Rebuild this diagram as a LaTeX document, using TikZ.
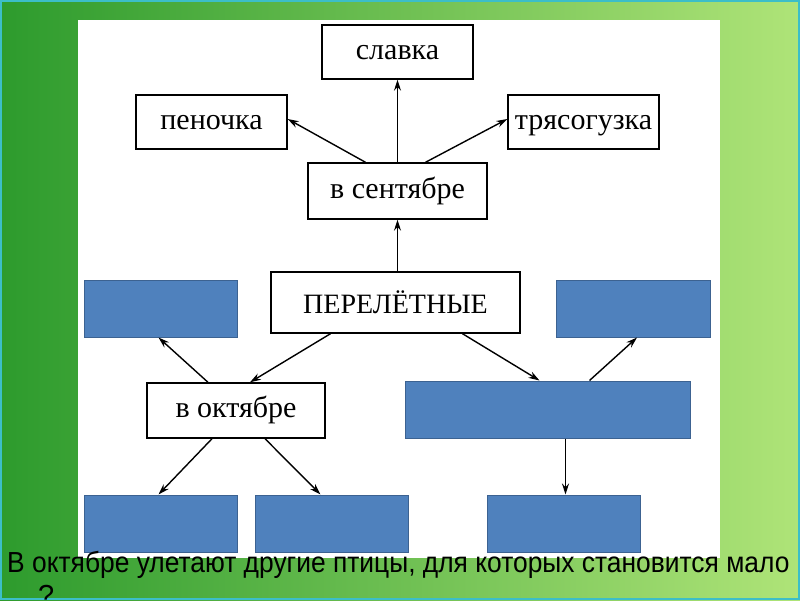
\documentclass[tikz,border=0pt]{standalone}
\usepackage{fontspec}
\setmainfont{Liberation Serif}
\newfontfamily\captionfont{Liberation Sans}
\usetikzlibrary{arrows.meta}
\definecolor{blueFill}{RGB}{79,129,189}
\definecolor{blueEdge}{RGB}{60,98,145}
\definecolor{bgDark}{RGB}{45,155,45}
\definecolor{bgLight}{RGB}{175,228,120}
\definecolor{frameCyan}{RGB}{60,190,200}

\begin{document}
\begin{tikzpicture}[x=1pt,y=-1pt,>={Stealth[length=11pt,width=7pt]},
  wordbox/.style={draw=black,line width=1.4pt,fill=white,minimum width=151pt,minimum height=54pt,inner sep=0pt,
    font=\fontsize{30}{34}\selectfont,text height=17pt,text depth=3pt},
  blankbox/.style={draw=blueEdge,line width=1pt,fill=blueFill,minimum width=153pt,minimum height=57pt,inner sep=0pt},
  link/.style={->,line width=1.4pt}]
\useasboundingbox (0,0) rectangle (800,600);
% background
\shade[left color=bgDark,right color=bgLight] (0,0) rectangle (800,600);
\fill[white] (78,20) rectangle (720,558);
\draw[frameCyan,line width=2pt] (1,1) rectangle (799,599);
% upper part
\node[wordbox] (slavka) at (397.5,52) {славка};
\node[wordbox] (penochka) at (211.5,122) {пеночка};
\node[wordbox] (tryas) at (583.5,122) {трясогузка};
\node[wordbox,minimum width=179pt,minimum height=56pt] (sent) at (397.5,191) {в сентябре};
\node[wordbox,minimum width=249pt,minimum height=61pt,font=\fontsize{28}{30}\selectfont,text height=21pt,text depth=0pt] (pereletn) at (395.5,302.5) {ПЕРЕЛЁТНЫЕ};
% lower part
\node[blankbox] (blankTL) at (160.5,308.5) {};
\node[blankbox,minimum width=154pt] (blankTR) at (633,308.5) {};
\node[wordbox,minimum width=178pt,minimum height=55pt] (okt) at (236,410.5) {в октябре};
\node[blankbox,minimum width=285pt] (blankMid) at (547.5,409.5) {};
\node[blankbox] (blankB1) at (160.5,523.5) {};
\node[blankbox] (blankB2) at (331.5,523.5) {};
\node[blankbox] (blankB3) at (563.5,523.5) {};
% arrows
\draw[link] (sent.north) -- (slavka.south);
\draw[link] ([xshift=-32pt]sent.north) -- ([yshift=3pt]penochka.east);
\draw[link] ([xshift=28pt]sent.north) -- ([yshift=3pt]tryas.west);
\draw[link] ([xshift=2pt]pereletn.north) -- (sent.south);
\draw[link] ([xshift=-65pt]pereletn.south) -- ([xshift=14pt]okt.north);
\draw[link] ([xshift=67pt]pereletn.south) -- ([xshift=-8pt]blankMid.north);
\draw[link] ([xshift=-28pt]okt.north) -- ([xshift=-2pt]blankTL.south);
\draw[link] ([xshift=42pt]blankMid.north) -- ([xshift=4pt]blankTR.south);
\draw[link] ([xshift=-24pt]okt.south) -- ([xshift=-2pt]blankB1.north);
\draw[link] ([xshift=29pt]okt.south) -- ([xshift=-11pt]blankB2.north);
\draw[link] ([xshift=18pt]blankMid.south) -- ([xshift=2pt]blankB3.north);
% caption
\node[anchor=west,inner sep=0pt,font=\captionfont\fontsize{29}{32}\selectfont] (caption) at (7,565) {\scalebox{0.91}[1]{В октябре улетают другие птицы, для которых становится мало}};
\node[anchor=west,inner sep=0pt,font=\captionfont\fontsize{29}{32}\selectfont] (question) at (38,595) {?};
\end{tikzpicture}
\end{document}
